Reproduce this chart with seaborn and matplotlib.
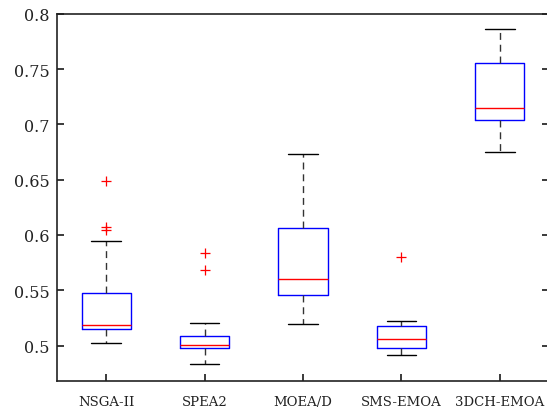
"""Boxplot of indicator values per algorithm, MATLAB-like look."""

import matplotlib

matplotlib.use("Agg")
import matplotlib.pyplot as plt
import numpy as np
import pandas as pd
import seaborn as sns

algorithms = ["NSGA-II", "SPEA2", "MOEA/D", "SMS-EMOA", "3DCH-EMOA"]
whisker_low = [0.5027, 0.4835, 0.5193, 0.4919, 0.6750]
q1 = [0.5151, 0.4979, 0.5458, 0.4979, 0.7037]
median = [0.5190, 0.5009, 0.5603, 0.5061, 0.7148]
q3 = [0.5476, 0.5090, 0.6061, 0.5181, 0.7557]
whisker_high = [0.5949, 0.5202, 0.6732, 0.5223, 0.7865]
outliers = [[0.6488, 0.6070, 0.6046], [0.5838, 0.5681], [], [0.5804], []]

y_ticks = [0.5, 0.55, 0.6, 0.65, 0.7, 0.75, 0.8]
y_tick_labels = ["0.5", "0.55", "0.6", "0.65", "0.7", "0.75", "0.8"]


def build_samples(m: int = 10) -> pd.DataFrame:
    """Expand the read summary statistics into samples with the same quartiles."""
    rows = []
    for i, name in enumerate(algorithms):
        values = (
            [whisker_low[i]]
            + [q1[i]] * m
            + [median[i]] * m
            + [q3[i]] * m
            + [whisker_high[i]]
            + outliers[i]
        )
        rows.extend({"algorithm": name, "value": v} for v in values)
    return pd.DataFrame(rows)


def main() -> None:
    sns.set_theme(style="ticks")
    plt.rcParams["font.family"] = ["DejaVu Serif", "Liberation Serif"]

    data = build_samples()
    fig = plt.figure(figsize=(5.47, 4.14), dpi=100)
    ax = fig.add_axes([0.1042, 0.0773, 0.8995, 0.8872])

    sns.boxplot(
        data=data,
        x="algorithm",
        y="value",
        order=algorithms,
        fill=False,
        width=0.5,
        whis=1.5,
        linewidth=1.0,
        ax=ax,
        boxprops=dict(color="#0000FF", linewidth=1.0),
        medianprops=dict(color="#FF0000", linewidth=1.0),
        whiskerprops=dict(color="#333333", linestyle=(0, (5, 3.5)), linewidth=1.0),
        capprops=dict(color="black", linewidth=1.0),
        flierprops=dict(marker="+", markeredgecolor="#FF0000", markerfacecolor="none",
                        markersize=7.5, markeredgewidth=0.9),
        capwidths=0.3,
    )

    ax.set_xlim(-0.5, len(algorithms) - 0.5)
    ax.set_ylim(0.468, 0.8)
    ax.set_yticks(y_ticks)
    ax.set_yticklabels(y_tick_labels)
    ax.set_xlabel("")
    ax.set_ylabel("")

    for side in ["left", "right", "top", "bottom"]:
        ax.spines[side].set_visible(True)
        ax.spines[side].set_linewidth(1.2)
        ax.spines[side].set_color("#222222")
    ax.tick_params(axis="y", direction="in", left=True, right=True, length=5,
                   labelsize=11.5, colors="#222222", pad=5.5)
    ax.tick_params(axis="x", direction="in", bottom=True, top=False, length=5,
                   labelsize=9.5, colors="#222222", pad=10)

    fig.savefig("out.png", dpi=100)
    plt.close(fig)


if __name__ == "__main__":
    main()
